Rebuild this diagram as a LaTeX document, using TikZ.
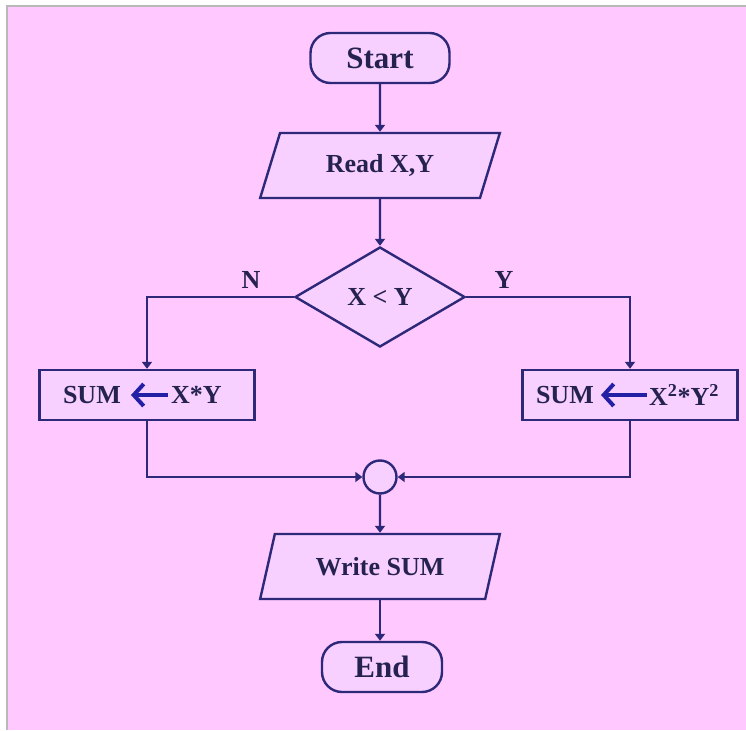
\documentclass[tikz,border=0pt]{standalone}
\usepackage{fontspec}
\setmainfont{Liberation Serif}
\usetikzlibrary{shapes.geometric,arrows.meta}
\definecolor{bgpink}{RGB}{255,200,255}
\definecolor{boxfill}{RGB}{247,208,255}
\definecolor{ink}{RGB}{46,40,120}
\definecolor{txtcol}{RGB}{38,34,80}
\definecolor{asgn}{RGB}{36,32,165}
\tikzset{
  base/.style={draw=ink, line width=2.4pt, fill=boxfill, text=txtcol,
    font=\fontsize{26}{30}\selectfont\bfseries, inner sep=0pt},
  term/.style={base, rectangle, rounded corners=20pt,
    font=\fontsize{31}{34}\selectfont\bfseries, minimum height=50pt},
  io/.style={base, trapezium, trapezium left angle=64, trapezium right angle=116,
    trapezium stretches=true, minimum width=240pt, minimum height=65pt},
  decision/.style={base, diamond, minimum width=170pt, minimum height=100pt},
  proc/.style={base, rectangle, minimum width=215pt, minimum height=50pt},
  joint/.style={base, circle, minimum size=33pt},
  lbl/.style={text=txtcol, font=\fontsize{26}{30}\selectfont\bfseries, inner sep=0pt},
  flow/.style={draw=ink, line width=2.4pt, -{Triangle[length=7pt,width=10pt]}},
  assign/.style={draw=asgn, line width=4pt,
    -{Straight Barb[length=10pt,width=22pt,line width=4pt]}}
}
\begin{document}
\begin{tikzpicture}[x=1pt,y=-1pt]
  \useasboundingbox (0,0) rectangle (746,730);
  % page background with its thin frame
  \fill[white] (0,0) rectangle (746,730);
  \fill[bgpink] (7,6) rectangle (746,730);
  \draw[gray!55, line width=1.2pt] (7,730) -- (7,6) -- (746,6);

  % flowchart nodes
  \node[term, minimum width=139pt] (start) at (380,58) {Start};
  \node[io] (read) at (380,165.5) {Read X,Y};
  \node[decision] (cmp) at (380,297) {X < Y};
  \node[proc] (sumN) at (147,395) {};
  \node[proc] (sumY) at (630,395) {};
  \node[joint] (join) at (380,477) {};
  \node[io] (write) at (380,566.5) {Write SUM};
  \node[term, minimum width=120pt] (stop) at (382,667) {End};

  % branch labels
  \node[lbl] (lblN) at (251,280) {N};
  \node[lbl] (lblY) at (504,280) {Y};

  % assignment texts inside the process boxes
  \node[lbl, anchor=east] (sumNl) at (121,395) {SUM};
  \node[lbl, anchor=west] (sumNr) at (171,395) {X*Y};
  \coordinate (aN1) at (168,395);
  \coordinate (aN2) at (131,395);
  \draw[assign] (aN1) -- (aN2);

  \node[lbl, anchor=east] (sumYl) at (594,395) {SUM};
  \node[lbl, anchor=west] (sumYr) at (649,395) {X\textsuperscript{2}*Y\textsuperscript{2}};
  \coordinate (aY1) at (647,395);
  \coordinate (aY2) at (601,395);
  \draw[assign] (aY1) -- (aY2);

  % connectors
  \draw[flow] (start.south) -- (read.north);
  \draw[flow] (read.south) -- (cmp.north);
  \draw[flow] (cmp.west) -| (sumN.north);
  \draw[flow] (cmp.east) -| (sumY.north);
  \draw[flow] (sumN.south) |- (join.west);
  \draw[flow] (sumY.south) |- (join.east);
  \draw[flow] (join.south) -- (write.north);
  \draw[flow] (write.south) -- (write.south |- stop.north);
\end{tikzpicture}
\end{document}
